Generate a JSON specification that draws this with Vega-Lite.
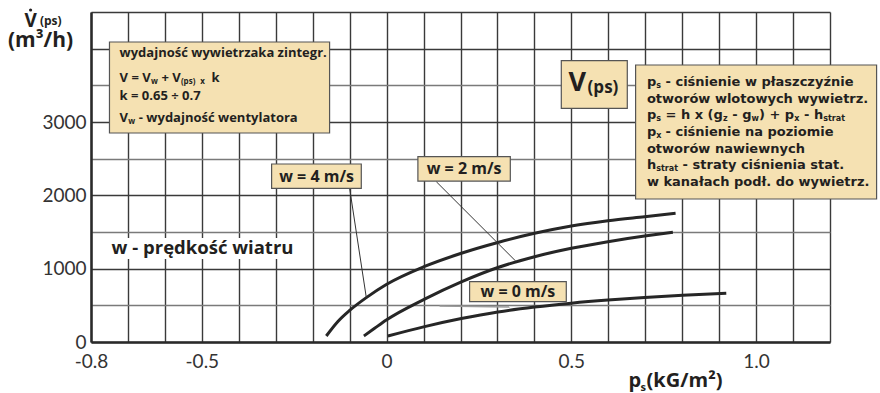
{
  "$schema": "https://vega.github.io/schema/vega-lite/v6.json",
  "width": 739,
  "height": 330,
  "autosize": {"type": "none"},
  "padding": {"left": 91, "top": 12, "right": 50, "bottom": 51},
  "background": "white",
  "config": {
    "view": {"stroke": null},
    "text": {"font": "Open Sans", "fontWeight": "bold", "color": "#231f20", "align": "left", "baseline": "alphabetic"}
  },
  "datasets": {
    "curves": [
      {"w": "4", "x": -0.1632, "y": 82}, {"w": "4", "x": -0.1318, "y": 280}, {"w": "4", "x": -0.1001, "y": 430},
      {"w": "4", "x": -0.0549, "y": 605}, {"w": "4", "x": -0.0008, "y": 784}, {"w": "4", "x": 0.1028, "y": 1030},
      {"w": "4", "x": 0.2022, "y": 1210}, {"w": "4", "x": 0.3012, "y": 1357}, {"w": "4", "x": 0.4005, "y": 1482},
      {"w": "4", "x": 0.4999, "y": 1582}, {"w": "4", "x": 0.5989, "y": 1654}, {"w": "4", "x": 0.6982, "y": 1709},
      {"w": "4", "x": 0.7821, "y": 1755},
      {"w": "2", "x": -0.0614, "y": 82}, {"w": "2", "x": -0.0325, "y": 187}, {"w": "2", "x": -0.0008, "y": 300},
      {"w": "2", "x": 0.1028, "y": 585}, {"w": "2", "x": 0.2022, "y": 820}, {"w": "2", "x": 0.3012, "y": 1016},
      {"w": "2", "x": 0.4005, "y": 1163}, {"w": "2", "x": 0.4999, "y": 1278}, {"w": "2", "x": 0.5989, "y": 1368},
      {"w": "2", "x": 0.6982, "y": 1445}, {"w": "2", "x": 0.7748, "y": 1496},
      {"w": "0", "x": 0.0035, "y": 82}, {"w": "0", "x": 0.1028, "y": 210}, {"w": "0", "x": 0.2022, "y": 320},
      {"w": "0", "x": 0.3012, "y": 410}, {"w": "0", "x": 0.4005, "y": 477}, {"w": "0", "x": 0.4999, "y": 530},
      {"w": "0", "x": 0.5989, "y": 572}, {"w": "0", "x": 0.6982, "y": 606}, {"w": "0", "x": 0.8011, "y": 636},
      {"w": "0", "x": 0.9193, "y": 664}
    ],
    "leaders": [
      {"x": -0.1001, "y": 2096, "x2": -0.0549, "y2": 605},
      {"x": 0.1345, "y": 2186, "x2": 0.3483, "y2": 1109}
    ],
    "leaderGray": [
      {"x": 0.1434, "y": 491, "x2": 0.3329, "y2": 477}
    ],
    "whiteBoxes": [
      {"x": -0.7578, "y": 1418, "x2": -0.2355, "y2": 1132}
    ],
    "boxes": [
      {"x": -0.75, "y": 4091, "x2": -0.1543, "y2": 2850},
      {"x": 0.4728, "y": 3836, "x2": 0.6514, "y2": 3187},
      {"x": 0.6739, "y": 3777, "x2": 1.3261, "y2": 1950},
      {"x": -0.3112, "y": 2427, "x2": -0.0685, "y2": 2096},
      {"x": 0.0847, "y": 2527, "x2": 0.3348, "y2": 2195},
      {"x": 0.2246, "y": 822, "x2": 0.4863, "y2": 550}
    ],
    "box1Text": [
      {"t": "wydajność wywietrzaka zintegr.", "x": -0.7226, "y": 3882},
      {"t": "V = V", "x": -0.7226, "y": 3550},
      {"t": "+ V", "x": -0.6092, "y": 3550},
      {"t": "k", "x": -0.4736, "y": 3550},
      {"t": "k = 0.65 ÷ 0.7", "x": -0.7226, "y": 3300},
      {"t": "V", "x": -0.7226, "y": 3004},
      {"t": "- wydajność wentylatora", "x": -0.6706, "y": 3004}
    ],
    "box1Sub": [
      {"t": "w", "x": -0.6379, "y": 3518},
      {"t": "(ps)", "x": -0.5567, "y": 3525},
      {"t": "x", "x": -0.5045, "y": 3525},
      {"t": "w", "x": -0.6993, "y": 2973}
    ],
    "box3Text": [
      {"t": "p", "x": 0.7045, "y": 3491},
      {"t": "- ciśnienie w płaszczyźnie", "x": 0.7548, "y": 3491},
      {"t": "otworów wlotowych wywietrz.", "x": 0.7045, "y": 3263},
      {"t": "p", "x": 0.7045, "y": 3037},
      {"t": "= h x (g", "x": 0.7548, "y": 3037},
      {"t": "- g", "x": 0.9356, "y": 3037},
      {"t": ") + p", "x": 1.0078, "y": 3037},
      {"t": "- h", "x": 1.1296, "y": 3037},
      {"t": "p", "x": 0.7045, "y": 2809},
      {"t": "- ciśnienie na poziomie", "x": 0.7548, "y": 2809},
      {"t": "otworów nawiewnych", "x": 0.7045, "y": 2581},
      {"t": "h", "x": 0.7045, "y": 2355},
      {"t": "- straty ciśnienia stat.", "x": 0.8011, "y": 2355},
      {"t": "w kanałach podł. do wywietrz.", "x": 0.7045, "y": 2127}
    ],
    "box3Sub": [
      {"t": "s", "x": 0.7297, "y": 3464},
      {"t": "s", "x": 0.7297, "y": 3010},
      {"t": "z", "x": 0.9107, "y": 3010},
      {"t": "w", "x": 0.9878, "y": 3010},
      {"t": "x", "x": 1.1031, "y": 3010},
      {"t": "strat", "x": 1.1816, "y": 3010},
      {"t": "x", "x": 0.7297, "y": 2782},
      {"t": "strat", "x": 0.7297, "y": 2328}
    ],
    "bigV": [{"t": "V", "x": 0.4926, "y": 3427}],
    "bigVSub": [{"t": "(ps)", "x": 0.544, "y": 3391}],
    "wLabels": [
      {"t": "w = 4 m/s", "x": -0.1894, "y": 2186},
      {"t": "w = 2 m/s", "x": 0.2097, "y": 2291},
      {"t": "w = 0 m/s", "x": 0.3553, "y": 618}
    ],
    "windNote": [{"t": "w - prędkość wiatru", "x": -0.7442, "y": 1200}],
    "yTitleV": [{"t": "V", "x": -0.9797, "y": 4300}],
    "yTitleSub": [{"t": "(ps)", "x": -0.9383, "y": 4323}],
    "yTitleUnit": [{"t": "(m³/h)", "x": -1.0249, "y": 4027}],
    "yTitleDot": [{"x": -0.9635, "y": 4527}],
    "xTitleMain": [
      {"t": "p", "x": 0.6549, "y": -614},
      {"t": "(kG/m²)", "x": 0.7036, "y": -614}
    ],
    "xTitleSub": [{"t": "s", "x": 0.6874, "y": -668}]
  },
  "encoding": {
    "x": {
      "field": "x", "type": "quantitative",
      "scale": {"domain": [-0.8, 1.2], "nice": false, "zero": false},
      "axis": {
        "title": null,
        "values": [-0.8, -0.7, -0.6, -0.5, -0.4, -0.3, -0.2, -0.1, 0, 0.1, 0.2, 0.3, 0.4, 0.5, 0.6, 0.7, 0.8, 0.9, 1, 1.1, 1.2],
        "grid": true, "gridColor": "#3a3a3a", "gridWidth": 1.4,
        "ticks": false,
        "domain": true, "domainColor": "#2a2a2a", "domainWidth": 2.5,
        "labelExpr": "datum.value === -0.8 ? '-0.8' : datum.value === -0.5 ? '-0.5' : datum.value === 0 ? '0' : datum.value === 0.5 ? '0.5' : datum.value === 1 ? '1.0' : ''",
        "labelFont": "Lato", "labelFontSize": 19, "labelFontWeight": "normal", "labelColor": "#333333",
        "labelPadding": 10, "labelFlush": false, "labelOverlap": false, "labelBound": false
      }
    },
    "y": {
      "field": "y", "type": "quantitative",
      "scale": {"domain": [0, 4500], "nice": false, "zero": false},
      "axis": {
        "title": null,
        "values": [0, 500, 1000, 1500, 2000, 2500, 3000, 3500, 4000, 4500],
        "grid": true,
        "gridColor": {"condition": {"test": "datum.value % 1000 === 0 || datum.value === 4500", "value": "#3a3a3a"}, "value": "#7a7a7a"},
        "gridWidth": 1.4,
        "ticks": false,
        "domain": true, "domainColor": "#2a2a2a", "domainWidth": 2.5,
        "labelExpr": "(datum.value % 1000 === 0 && datum.value <= 3000) ? ('' + datum.value) : ''",
        "labelFont": "Lato", "labelFontSize": 19, "labelFontWeight": "normal", "labelColor": "#333333",
        "labelPadding": 5, "labelFlush": false, "labelOverlap": false, "labelBound": false
      }
    }
  },
  "layer": [
    {
      "data": {"name": "whiteBoxes"},
      "mark": {"type": "rect", "fill": "white", "stroke": null},
      "encoding": {"x2": {"field": "x2"}, "y2": {"field": "y2"}}
    },
    {
      "data": {"name": "curves"},
      "mark": {"type": "line", "interpolate": "monotone", "strokeWidth": 3, "color": "#262626", "strokeCap": "butt"},
      "encoding": {"detail": {"field": "w"}}
    },
    {
      "data": {"name": "leaders"},
      "mark": {"type": "rule", "color": "#333333", "strokeWidth": 1},
      "encoding": {"x2": {"field": "x2"}, "y2": {"field": "y2"}}
    },
    {
      "data": {"name": "leaderGray"},
      "mark": {"type": "rule", "color": "#9a9a9a", "strokeWidth": 1.5},
      "encoding": {"x2": {"field": "x2"}, "y2": {"field": "y2"}}
    },
    {
      "data": {"name": "boxes"},
      "mark": {"type": "rect", "fill": "#f5e1b2", "stroke": "#555555", "strokeWidth": 1.2},
      "encoding": {"x2": {"field": "x2"}, "y2": {"field": "y2"}}
    },
    {
      "data": {"name": "box1Text"},
      "mark": {"type": "text", "fontSize": 13},
      "encoding": {"text": {"field": "t"}}
    },
    {
      "data": {"name": "box1Sub"},
      "mark": {"type": "text", "fontSize": 8},
      "encoding": {"text": {"field": "t"}}
    },
    {
      "data": {"name": "box3Text"},
      "mark": {"type": "text", "fontSize": 13, "font": "DejaVu Sans"},
      "encoding": {"text": {"field": "t"}}
    },
    {
      "data": {"name": "box3Sub"},
      "mark": {"type": "text", "fontSize": 8, "font": "DejaVu Sans"},
      "encoding": {"text": {"field": "t"}}
    },
    {
      "data": {"name": "bigV"},
      "mark": {"type": "text", "fontSize": 27},
      "encoding": {"text": {"field": "t"}}
    },
    {
      "data": {"name": "bigVSub"},
      "mark": {"type": "text", "fontSize": 17},
      "encoding": {"text": {"field": "t"}}
    },
    {
      "data": {"name": "wLabels"},
      "mark": {"type": "text", "fontSize": 16, "align": "center"},
      "encoding": {"text": {"field": "t"}}
    },
    {
      "data": {"name": "windNote"},
      "mark": {"type": "text", "fontSize": 18.5},
      "encoding": {"text": {"field": "t"}}
    },
    {
      "data": {"name": "yTitleV"},
      "mark": {"type": "text", "fontSize": 19},
      "encoding": {"text": {"field": "t"}}
    },
    {
      "data": {"name": "yTitleSub"},
      "mark": {"type": "text", "fontSize": 12},
      "encoding": {"text": {"field": "t"}}
    },
    {
      "data": {"name": "yTitleUnit"},
      "mark": {"type": "text", "fontSize": 21},
      "encoding": {"text": {"field": "t"}}
    },
    {
      "data": {"name": "yTitleDot"},
      "mark": {"type": "point", "filled": true, "color": "#231f20", "size": 10, "opacity": 1}
    },
    {
      "data": {"name": "xTitleMain"},
      "mark": {"type": "text", "fontSize": 20},
      "encoding": {"text": {"field": "t"}}
    },
    {
      "data": {"name": "xTitleSub"},
      "mark": {"type": "text", "fontSize": 11},
      "encoding": {"text": {"field": "t"}}
    }
  ]
}
